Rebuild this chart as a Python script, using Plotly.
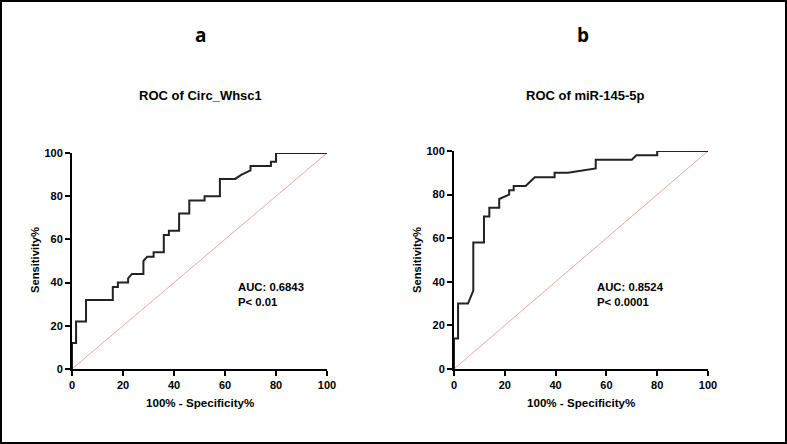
import plotly.graph_objects as go

W, H = 787, 444

# Panel a: ROC of Circ_Whsc1 (vertices of the ROC curve)
fpr_a = [0, 0, 1.6, 1.6, 5.5, 5.5, 16, 16, 18, 18, 22, 22, 23.5, 28, 28, 29.5, 32, 32, 36, 36,
         38, 38, 42, 42, 46, 46, 52, 52, 58, 58, 64, 66.5, 70, 70, 78, 78, 80, 80, 100]
tpr_a = [0, 12, 12, 22, 22, 32, 32, 38, 38, 40, 40, 42, 44, 44, 50, 52, 52, 54, 54, 62,
         62, 64, 64, 72, 72, 78, 78, 80, 80, 88, 88, 90, 92, 94, 94, 96, 96, 100, 100]

# Panel b: ROC of miR-145-5p
fpr_b = [0, 0, 1.6, 1.6, 5.5, 7.6, 7.6, 11.8, 11.8, 13.9, 13.9, 17.8, 17.8, 21.7, 21.7, 23.5,
         23.5, 28.2, 31.8, 39.6, 39.6, 44.9, 55.8, 55.8, 70, 71.8, 80, 80, 100]
tpr_b = [0, 14, 14, 30, 30, 36, 58, 58, 70, 70, 74, 74, 78, 80, 82, 82,
         84, 84, 88, 88, 90, 90, 92, 96, 96, 98, 98, 100, 100]

ref_x = [0, 100]
ref_y = [0, 100]

ticks = [0, 20, 40, 60, 80, 100]
titles = ["ROC of Circ_Whsc1", "ROC of miR-145-5p"]
letters = ["a", "b"]
stats = ["AUC: 0.6843<br>P&lt; 0.01", "AUC: 0.8524<br>P&lt; 0.0001"]

FONT = "Liberation Sans"

fig = go.Figure()

panels = [
    dict(xd=(72, 327), yd=(369, 153), fpr=fpr_a, tpr=tpr_a, xa="x", ya="y",
         stat_x=64.3, title_x=200, letter_x=200),
    dict(xd=(454, 708), yd=(369, 151), fpr=fpr_b, tpr=tpr_b, xa="x2", ya="y2",
         stat_x=55.5, title_x=585, letter_x=583),
]

layout = dict(
    width=W, height=H,
    margin=dict(l=0, r=0, t=0, b=0),
    paper_bgcolor="white", plot_bgcolor="white",
    showlegend=False,
    font=dict(family=FONT, color="black"),
)

annotations = []
for i, p in enumerate(panels):
    fig.add_trace(go.Scatter(x=ref_x, y=ref_y, mode="lines",
                             line=dict(color="#f4a3a3", width=1),
                             xaxis=p["xa"], yaxis=p["ya"], hoverinfo="skip"))
    fig.add_trace(go.Scatter(x=p["fpr"], y=p["tpr"], mode="lines",
                             line=dict(color="#222222", width=2),
                             xaxis=p["xa"], yaxis=p["ya"]))
    axsuffix = "" if i == 0 else "2"
    common = dict(range=[0, 100], tickvals=ticks, showgrid=False, zeroline=False,
                  showline=True, linecolor="black", linewidth=2,
                  ticks="outside", ticklen=5, tickwidth=2, tickcolor="black",
                  tickfont=dict(family=FONT, size=11, color="black", weight="bold"),
                  automargin=False, fixedrange=True)
    layout["xaxis" + axsuffix] = dict(
        common, domain=[p["xd"][0] / W, p["xd"][1] / W],
        anchor="y" + axsuffix)
    layout["yaxis" + axsuffix] = dict(
        common, domain=[1 - p["yd"][0] / H, 1 - p["yd"][1] / H],
        anchor="x" + axsuffix)
    cx = (p["xd"][0] + p["xd"][1]) / 2
    # stats text
    annotations.append(dict(xref=p["xa"], yref=p["ya"], x=p["stat_x"], y=41.5,
                            xanchor="left", yanchor="top", showarrow=False, align="left",
                            text="<b>" + stats[i] + "</b>",
                            font=dict(family=FONT, size=11.3, color="black")))
    # axis titles
    annotations.append(dict(xref="paper", yref="paper", x=cx / W, y=1 - 402 / H,
                            xanchor="center", yanchor="middle", showarrow=False,
                            text="<b>100% - Specificity%</b>",
                            font=dict(family=FONT, size=11.6, color="black")))
    annotations.append(dict(xref="paper", yref="paper", x=(p["xd"][0] - 37) / W,
                            y=1 - 260 / H, xanchor="center", yanchor="middle",
                            showarrow=False, textangle=-90,
                            text="<b>Sensitivity%</b>",
                            font=dict(family=FONT, size=11.2, color="black")))
    # panel titles
    annotations.append(dict(xref="paper", yref="paper", x=p["title_x"] / W, y=1 - 95 / H,
                            xanchor="center", yanchor="middle", showarrow=False,
                            text="<b>" + titles[i] + "</b>",
                            font=dict(family=FONT, size=13, color="black")))
    annotations.append(dict(xref="paper", yref="paper", x=p["letter_x"] / W, y=1 - 35 / H,
                            xanchor="center", yanchor="middle", showarrow=False,
                            text="<b>" + letters[i] + "</b>",
                            font=dict(family="Open Sans", size=19, color="black")))

layout["annotations"] = annotations
layout["shapes"] = [dict(type="rect", xref="paper", yref="paper",
                         x0=1 / W, x1=1 - 1 / W, y0=1 / H, y1=1 - 1 / H,
                         line=dict(color="black", width=2))]

fig.update_layout(**layout)
fig.write_html("out.html")
